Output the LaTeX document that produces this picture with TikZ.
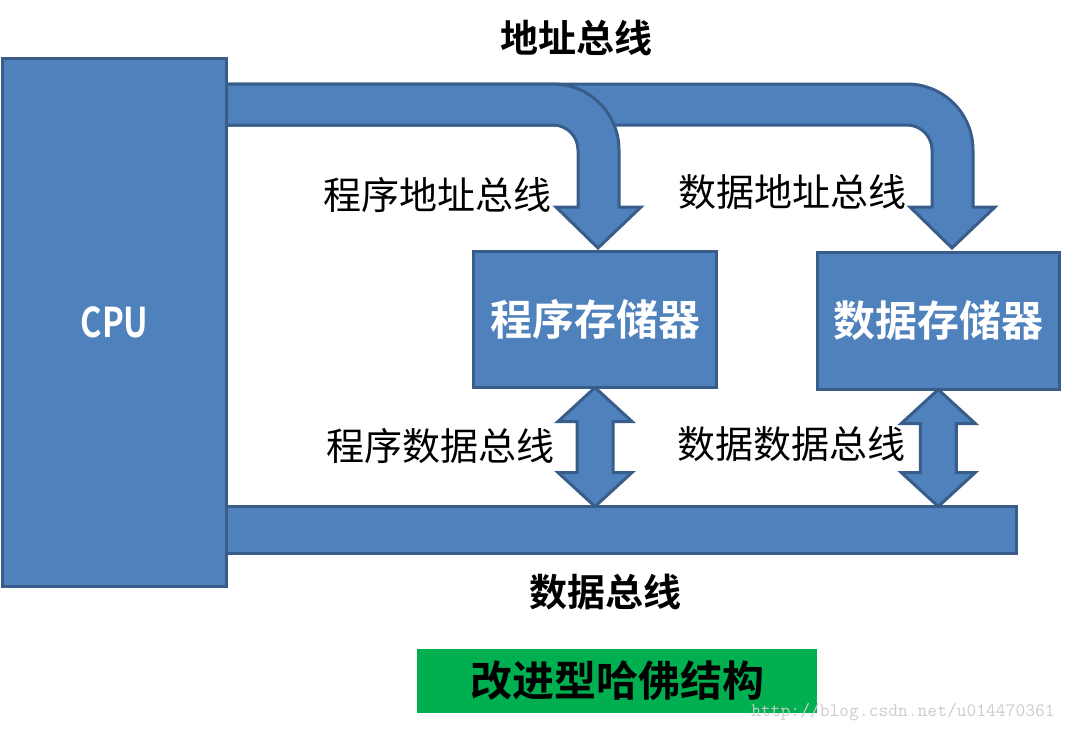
\documentclass[tikz,border=0pt]{standalone}
\usepackage{fontspec}
\newfontfamily\cjk{Noto Sans CJK SC}[BoldFont={Noto Sans CJK SC Bold}]
\usetikzlibrary{calc,backgrounds}

\definecolor{blockfill}{HTML}{4F81BD}
\definecolor{blockborder}{HTML}{385D8A}
\definecolor{legendgreen}{HTML}{00B050}

\begin{document}
\begin{tikzpicture}[x=1pt, y=-1pt]
    \tikzset{
      unit/.style={
        draw=blockborder, fill=blockfill, line width=3pt, rectangle,
        outer sep=0pt, inner sep=0pt, text=white,
      },
      busarrow/.style={draw=blockborder, fill=blockfill, line width=3pt, line join=miter},
      note/.style={font=\cjk\fontsize{38}{38}\selectfont},
      title/.style={font=\cjk\bfseries\fontsize{38}{38}\selectfont},
    }
    \useasboundingbox (0,0) rectangle (1068,732);
    % units
    \node (bus) [unit, minimum width=790pt, minimum height=47pt] at (621.5,530) {};
    \node (cpu) [unit, minimum width=224pt, minimum height=528pt,
                 font=\cjk\bfseries\fontsize{41}{41}\selectfont] at (114.5,322.5) {\scalebox{0.8}[1]{CPU}};
    \node (progmem) [unit, minimum width=243pt, minimum height=136pt,
                     font=\cjk\bfseries\fontsize{42}{42}\selectfont] at (595,319.5) {程序存储器};
    \node (datamem) [unit, minimum width=242.5pt, minimum height=137pt,
                     font=\cjk\bfseries\fontsize{42}{42}\selectfont] at (938.25,321) {数据存储器};
    % labels
    \node (abus) [title] at (576,38) {地址总线};
    \node (dbus) [title] at (605,592) {数据总线};
    \node (paddr) [note] at (437.5,195) {程序地址总线};
    \node (daddr) [note] at (792.5,192.5) {数据地址总线};
    \node (pdata) [note] at (440,446) {程序数据总线};
    \node (ddata) [note] at (791.5,444.5) {数据数据总线};
    \node (legend) [fill=legendgreen, minimum width=400pt, minimum height=64pt,
                    font=\cjk\bfseries\fontsize{42}{42}\selectfont] at (617,681) {改进型哈佛结构};
    \node (mark) [font=\ttfamily\fontsize{19}{19}\selectfont, text=gray!40] at (903,712) {http://blog.csdn.net/u014470361};

    \begin{scope}[on background layer]
      \coordinate (bandtop) at (0,84);
      \coordinate (bandbot) at (0,125);
      % address bus arrows
      \foreach \cx in {907, 553} {
        \filldraw[busarrow] (cpu.east |- bandtop) -- (\cx,84)
          .. controls +(36.5,0) and +(0,-36.5) .. (\cx+66,150) -- (\cx+66,207)
          -- (\cx+88,207) -- (\cx+45,248) -- (\cx+3,207) -- (\cx+25,207) -- (\cx+25,150)
          .. controls +(0,-13.8) and +(13.8,0) .. (\cx,125) -- (cpu.east |- bandbot) -- cycle;
      }
      % data bus arrows
      \foreach \mem in {progmem, datamem} {
        \filldraw[busarrow] (\mem.south) -- ++(37,34) -- ++(-19,0)
          -- ($(\mem.south |- bus.north)+(18,-34)$) -- ++(19,0) -- (\mem.south |- bus.north)
          -- ++(-37,-34) -- ++(19,0) -- ($(\mem.south)+(-18,34)$) -- ++(-19,0) -- cycle;
      }
    \end{scope}
\end{tikzpicture}
\end{document}
